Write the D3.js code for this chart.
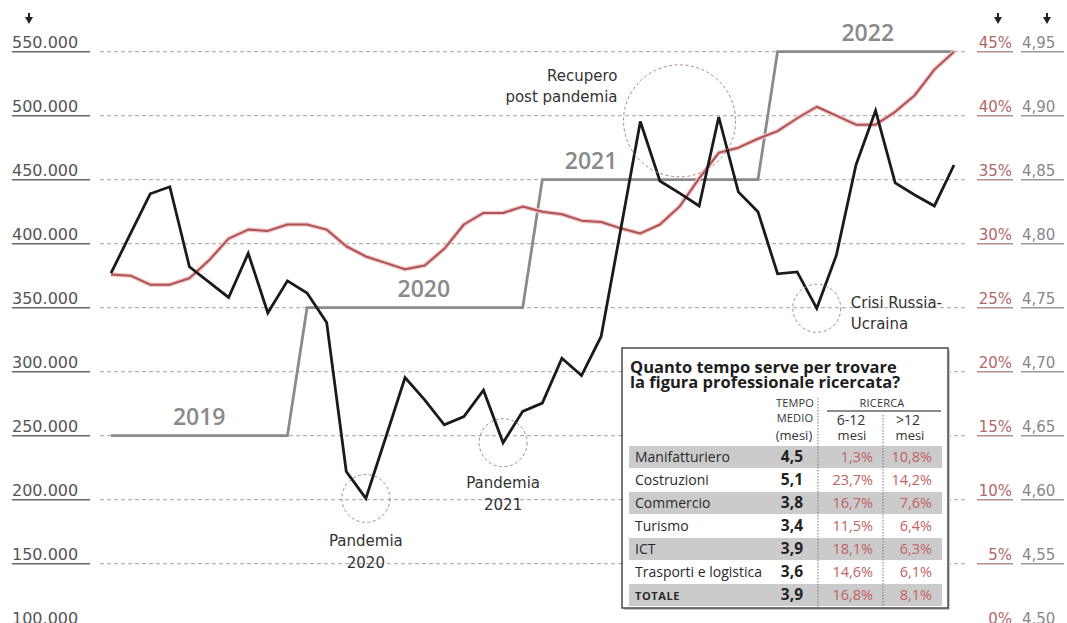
<!DOCTYPE html>
<html>
<head>
<meta charset="utf-8">
<script src="https://cdn.jsdelivr.net/npm/d3@7"></script>
<style>
  body { margin: 0; background: #fff; }
  svg { display: block; }
</style>
</head>
<body>
<svg id="chart" width="1067" height="623"></svg>
<script>
// Entrate programmate (valori mensili, scala di sinistra)
const assunzioni = [377000, 408000, 439000, 444500, 382000, 370000, 358000, 392500, 346000, 371000,
  361500, 338500, 222000, 201000, 248000, 295500, 278000, 258500, 265000, 285500, 244500, 269000,
  275500, 310500, 297000, 327500, 411000, 495500, 449000, 439500, 429500, 499000, 440500, 425000,
  376500, 378000, 349500, 391000, 461500, 504000, 447500, 438000, 429500, 461500];

// Quota di difficoltà di reperimento (%), scala di destra
const difficolta = [27.6, 27.5, 26.8, 26.8, 27.3, 28.7, 30.4, 31.1, 31.0, 31.5, 31.5, 31.1, 29.8,
  29.0, 28.5, 28.0, 28.3, 29.6, 31.5, 32.4, 32.4, 32.9, 32.5, 32.3, 31.8, 31.7, 31.2, 30.8, 31.5,
  32.9, 35.1, 37.1, 37.5, 38.2, 38.8, 39.8, 40.7, 40.0, 39.3, 39.3, 40.3, 41.6, 43.6, 45.0];

// Tempo medio di ricerca per anno (mesi), scala all'estrema destra
const anni = ["2019", "2020", "2021", "2022"];
const tempoMedioAnno = [4.65, 4.75, 4.85, 4.95];
const inizioAnno = [0, 10, 22, 34];
const fineAnno = [9, 21, 33, 43];

// Etichette degli assi
const tickAssunzioni = [100000, 150000, 200000, 250000, 300000, 350000, 400000, 450000, 500000, 550000];
const tickPct = [0, 5, 10, 15, 20, 25, 30, 35, 40, 45];
const tickTempo = [4.50, 4.55, 4.60, 4.65, 4.70, 4.75, 4.80, 4.85, 4.90, 4.95];

// Tabella
const settori = ["Manifatturiero", "Costruzioni", "Commercio", "Turismo", "ICT", "Trasporti e logistica", "TOTALE"];
const tempoMedio = [4.5, 5.1, 3.8, 3.4, 3.9, 3.6, 3.9];
const ricerca6_12 = [1.3, 23.7, 16.7, 11.5, 18.1, 14.6, 16.8];
const ricercaOltre12 = [10.8, 14.2, 7.6, 6.4, 6.3, 6.1, 8.1];

// Annotazioni: indice del mese evidenziato
const note = [
  { i: 13, righe: ["Pandemia", "2020"], anchor: "middle", dx: 0, dy: [48, 70], r: 24 },
  { i: 20, righe: ["Pandemia", "2021"], anchor: "middle", dx: 0, dy: [45, 67], r: 24 },
  { i: 29, v: 496000, righe: ["Recupero", "post pandemia"], anchor: "end", dx: -62, dy: [-40, -19], r: 56 },
  { i: 36, righe: ["Crisi Russia-", "Ucraina"], anchor: "start", dx: 34, dy: [0, 21], r: 24 }
];

const it = d3.formatLocale({ decimal: ",", thousands: ".", grouping: [3], currency: ["", " €"] });
const fmtMigliaia = it.format(",d");
const fmtTempo = it.format(".2f");
const fmtUno = it.format(".1f");

const svg = d3.select("#chart");
const FONT = "'DejaVu Sans', sans-serif";
const TFONT = "'Open Sans', sans-serif";

const x = d3.scaleLinear().domain([0, 43]).range([111, 954]);
const y = d3.scaleLinear().domain([100000, 550000]).range([627.7, 51.7]);
const yPct = d3.scaleLinear().domain([0, 45]).range([627.7, 51.7]);
const yTempo = d3.scaleLinear().domain([4.5, 4.95]).range([627.7, 51.7]);

// Griglia tratteggiata
svg.append("g").selectAll("line").data(tickAssunzioni).join("line")
  .attr("x1", 100).attr("x2", 968)
  .attr("y1", d => y(d)).attr("y2", d => y(d))
  .attr("stroke", "#a0a0a0").attr("stroke-width", 1).attr("stroke-dasharray", "4 3");

// Scala di sinistra
const gL = svg.append("g").selectAll("g").data(tickAssunzioni).join("g");
gL.append("line").attr("x1", 12).attr("x2", 90).attr("y1", d => y(d)).attr("y2", d => y(d))
  .attr("stroke", "#6a6a6a").attr("stroke-width", 1.5);
gL.append("text").attr("x", 12).attr("y", d => y(d) - 4)
  .attr("font-family", FONT).attr("font-size", 16).attr("fill", "#555")
  .text(d => fmtMigliaia(d));

// Scala percentuale
const gP = svg.append("g").selectAll("g").data(tickPct).join("g");
gP.append("line").attr("x1", 977).attr("x2", 1013).attr("y1", d => yPct(d)).attr("y2", d => yPct(d))
  .attr("stroke", "#b89090").attr("stroke-width", 1.5);
gP.append("text").attr("x", 1012).attr("y", d => yPct(d) - 4).attr("text-anchor", "end")
  .attr("font-family", FONT).attr("font-size", 15).attr("fill", "#b06868")
  .text(d => d + "%");

// Scala tempo medio
const gT = svg.append("g").selectAll("g").data(tickTempo).join("g");
gT.append("line").attr("x1", 1021).attr("x2", 1064).attr("y1", d => yTempo(d)).attr("y2", d => yTempo(d))
  .attr("stroke", "#999").attr("stroke-width", 1.5);
gT.append("text").attr("x", 1022).attr("y", d => yTempo(d) - 4)
  .attr("font-family", FONT).attr("font-size", 15).attr("fill", "#888")
  .text(d => fmtTempo(d));

// Frecce in testa alle scale
const frecce = [29, 998, 1047];
svg.append("g").selectAll("path").data(frecce).join("path")
  .attr("d", d => `M${d - 1},13 h2 v4 h3 l-4,7 l-4,-7 h3 z`)
  .attr("fill", "#222");

// Linea a gradini del tempo medio annuale
const gradini = [];
anni.forEach((a, k) => {
  gradini.push([inizioAnno[k], tempoMedioAnno[k]]);
  gradini.push([fineAnno[k], tempoMedioAnno[k]]);
});
svg.append("path").datum(gradini)
  .attr("d", d3.line().x(d => x(d[0])).y(d => yTempo(d[1])))
  .attr("fill", "none").attr("stroke", "#8a8a8a").attr("stroke-width", 2.8);

// Etichette degli anni, spostate per non coprire le altre linee
const spostaAnno = [0, 9, -59, 2];
svg.append("g").selectAll("text").data(anni).join("text")
  .attr("x", (d, k) => x((inizioAnno[k] + fineAnno[k]) / 2) + spostaAnno[k])
  .attr("y", (d, k) => yTempo(tempoMedioAnno[k]) - 11)
  .attr("text-anchor", "middle")
  .attr("font-family", TFONT).attr("font-weight", 600).attr("font-size", 23)
  .attr("fill", "#8a8a8a")
  .text(d => d);

// Quota di difficoltà (rosso)
const lineaPct = d3.line().x((d, i) => x(i)).y(d => yPct(d));
svg.append("path").datum(difficolta).attr("d", lineaPct)
  .attr("fill", "none").attr("stroke", "#efc9c9").attr("stroke-width", 4.5).attr("stroke-linejoin", "round");
svg.append("path").datum(difficolta).attr("d", lineaPct)
  .attr("fill", "none").attr("stroke", "#b05252").attr("stroke-width", 2).attr("stroke-linejoin", "round");

// Entrate (nero)
svg.append("path").datum(assunzioni)
  .attr("d", d3.line().x((d, i) => x(i)).y(d => y(d)))
  .attr("fill", "none").attr("stroke", "#1a1a1a").attr("stroke-width", 2.8).attr("stroke-linejoin", "miter");

// Cerchi e testi delle annotazioni
const gN = svg.append("g").selectAll("g").data(note).join("g")
  .attr("transform", d => `translate(${x(d.i)},${y(d.v !== undefined ? d.v : assunzioni[d.i])})`);
gN.append("circle").attr("r", d => d.r)
  .attr("fill", "none").attr("stroke", "#b08484").attr("stroke-width", 1).attr("stroke-dasharray", "3 2.5");
gN.each(function(d) {
  const g = d3.select(this);
  d.righe.forEach((t, k) => {
    g.append("text").attr("x", d.dx).attr("y", d.dy[k]).attr("text-anchor", d.anchor)
      .attr("font-family", FONT).attr("font-size", 15).attr("fill", "#333").text(t);
  });
});

// Tabella riquadro
const tb = svg.append("g");
tb.append("rect").attr("x", 624).attr("y", 350).attr("width", 326).attr("height", 260).attr("fill", "#c8c8c8");
tb.append("rect").attr("x", 622).attr("y", 348).attr("width", 326).attr("height", 260)
  .attr("fill", "#fff").attr("stroke", "#4a4a4a").attr("stroke-width", 1.5);
tb.append("text").attr("x", 630).attr("y", 373)
  .attr("font-family", TFONT).attr("font-weight", 700).attr("font-size", 16.5).attr("fill", "#1e1e1e")
  .text("Quanto tempo serve per trovare");
tb.append("text").attr("x", 630).attr("y", 388)
  .attr("font-family", TFONT).attr("font-weight", 700).attr("font-size", 16.5).attr("fill", "#1e1e1e")
  .text("la figura professionale ricercata?");

const rigaTop = 446, rigaH = 23;
tb.selectAll("rect.riga").data(settori).join("rect").attr("class", "riga")
  .attr("x", 629).attr("y", (d, i) => rigaTop + i * rigaH).attr("width", 313).attr("height", rigaH - 1)
  .attr("fill", (d, i) => i % 2 === 0 ? "#cbcbcb" : "none");

// Intestazioni
const head = [
  { t: "TEMPO", x: 795, y: 407, s: 11 }, { t: "MEDIO", x: 795, y: 422, s: 11 }, { t: "(mesi)", x: 794, y: 440, s: 13 },
  { t: "RICERCA", x: 882, y: 407, s: 11 },
  { t: "6-12", x: 851, y: 425, s: 14 }, { t: "mesi", x: 852, y: 440, s: 13 },
  { t: ">12", x: 908, y: 425, s: 14 }, { t: "mesi", x: 910, y: 440, s: 13 }
];
tb.selectAll("text.head").data(head).join("text").attr("class", "head")
  .attr("x", d => d.x).attr("y", d => d.y).attr("text-anchor", "middle")
  .attr("font-family", TFONT).attr("font-size", d => d.s).attr("fill", "#333")
  .attr("letter-spacing", d => d.s === 11 ? 0.2 : 0)
  .text(d => d.t);
tb.append("line").attr("x1", 827).attr("x2", 941).attr("y1", 411).attr("y2", 411)
  .attr("stroke", "#666").attr("stroke-width", 1.5);
tb.append("line").attr("x1", 818).attr("x2", 818).attr("y1", 398).attr("y2", 607)
  .attr("stroke", "#777").attr("stroke-dasharray", "1.5 1.5");
tb.append("line").attr("x1", 883).attr("x2", 883).attr("y1", 415).attr("y2", 607)
  .attr("stroke", "#777").attr("stroke-dasharray", "1.5 1.5");

// Righe
const righe = tb.selectAll("g.r").data(settori).join("g").attr("class", "r")
  .attr("transform", (d, i) => `translate(0,${rigaTop + i * rigaH + 16})`);
righe.append("text").attr("x", 635)
  .attr("font-family", TFONT)
  .attr("font-size", d => d === "TOTALE" ? 11 : 14)
  .attr("font-weight", d => d === "TOTALE" ? 700 : 400)
  .attr("letter-spacing", d => d === "TOTALE" ? 0.6 : 0)
  .attr("fill", "#2a2a2a").text(d => d);
righe.append("text").attr("x", 803).attr("text-anchor", "end")
  .attr("font-family", TFONT).attr("font-weight", 700).attr("font-size", 15.5).attr("fill", "#222")
  .text((d, i) => fmtUno(tempoMedio[i]));
righe.append("text").attr("x", 873).attr("text-anchor", "end")
  .attr("font-family", TFONT).attr("font-size", 14.5).attr("fill", "#c06262")
  .text((d, i) => fmtUno(ricerca6_12[i]) + "%");
righe.append("text").attr("x", 932).attr("text-anchor", "end")
  .attr("font-family", TFONT).attr("font-size", 14.5).attr("fill", "#c06262")
  .text((d, i) => fmtUno(ricercaOltre12[i]) + "%");
</script>
</body>
</html>
